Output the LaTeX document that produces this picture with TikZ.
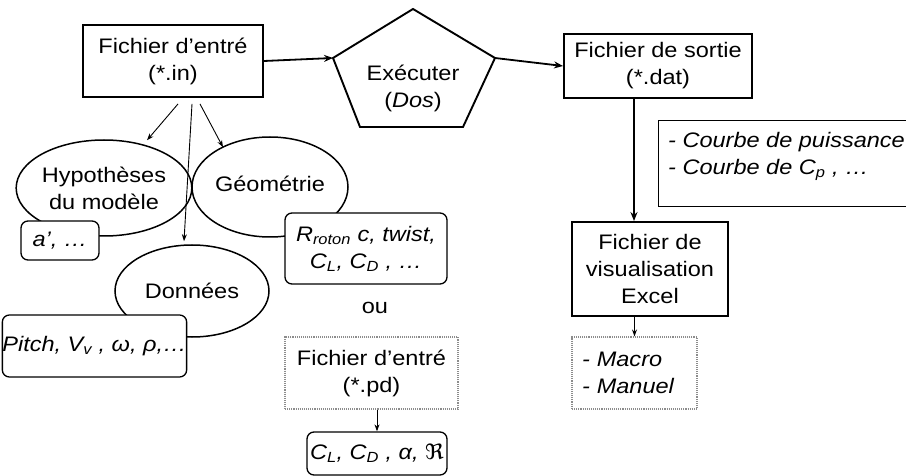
\documentclass[tikz,border=0pt]{standalone}
\usepackage{fontspec}
\setmainfont{Liberation Sans}[FakeStretch=1.12]
\newfontfamily\dejavu{DejaVu Sans}[FakeStretch=1.1]
\usetikzlibrary{arrows.meta,shapes.geometric}
\begin{document}
\begin{tikzpicture}[x=1pt,y=-1pt,
  every node/.style={font=\fontsize{21}{27}\selectfont, align=center, inner sep=0pt},
  mainbox/.style={draw, line width=1.9pt, rectangle},
  ell/.style={draw, ellipse, line width=1.5pt},
  rbox/.style={draw, rectangle, rounded corners=7pt, line width=1.3pt, fill=white},
  graybox/.style={draw=black!45, rectangle, line width=1.1pt, densely dotted, fill=white},
  thickarr/.style={line width=1.8pt, -{Stealth[length=9pt,width=7pt]}},
  thinarr/.style={line width=0.9pt, -{Stealth[length=7pt,width=5pt]}}]
\useasboundingbox (0,0) rectangle (906,476);

% main boxes
\node[mainbox, minimum width=180pt, minimum height=72pt] (fin) at (173,61) {Fichier d'entré\\(*.in)};
\node[mainbox, minimum width=188pt, minimum height=64pt] (sortie) at (658,66) {Fichier de sortie\\(*.dat)};
\node[mainbox, minimum width=156pt, minimum height=94pt] (visu) at (650,269) {Fichier de\\visualisation\\Excel};

% pentagon
\coordinate (pT) at (413,9);
\coordinate (pL) at (333,58);
\coordinate (pR) at (495,58);
\coordinate (pBL) at (360,127);
\coordinate (pBR) at (463,127);
\draw[line width=1.9pt, line join=miter] (pT) -- (pR) -- (pBR) -- (pBL) -- (pL) -- cycle;
\node (exec) at (413,88) {Exécuter\\(\textit{Dos})};

% ellipses
\node[ell, minimum width=168pt, minimum height=96pt] (hyp) at (104,188) {Hypothèses\\du modèle};
\node[ell, minimum width=156pt, minimum height=100pt] (geo) at (270,187) {\raisebox{6pt}{Géométrie}};
\node[ell, minimum width=154pt, minimum height=92pt] (don) at (192,291) {Données};

% rounded boxes
\node[rbox, minimum width=78pt, minimum height=39pt] (abox) at (60,240.5) {\textit{a', \dots}};
\node[rbox, minimum width=162pt, minimum height=71pt] (rbx) at (366,248.5)
  {\textit{R\textsubscript{roton} c, twist,}\\\textit{C\textsubscript{L}, C\textsubscript{D} , \dots}};
\node[rbox, minimum width=163pt, minimum height=62pt] (pbox) at (94.5,346)
  {\textit{Pitch, V\textsubscript{v} , ω, ρ,\dots}};
\node[rbox, minimum width=140pt, minimum height=43pt] (cl) at (377,453.5)
  {\textit{C\textsubscript{L}, C\textsubscript{D} , α, {\dejavu ℜ}}};

\node (ou) at (375,308) {ou};
\node[graybox, minimum width=173pt, minimum height=72pt] (pd) at (371.5,373) {Fichier d'entré\\(*.pd)};

\node[graybox, minimum height=72pt, text width=105pt, inner xsep=10pt, align=left] (macro) at (634.5,373)
  {\textit{- Macro}\\\textit{- Manuel}};

% courbe box
\node[draw, line width=1.4pt, minimum width=262pt, minimum height=86pt, anchor=north west] (cb) at (658,120) {};
\node[anchor=west, align=left] (cbt) at (668,156)
  {\textit{- Courbe de puissance}\\\textit{- Courbe de C\textsubscript{p} , \dots}};

% connectors
\draw[thickarr] (fin.east) -- (pL);
\draw[thickarr] (pR) -- (sortie.west);
\draw[thickarr] ([xshift=-24pt]sortie.south) -- ([xshift=-16pt]visu.north);
\draw[thinarr] (visu.south -| macro.north) -- (macro.north);
\draw[thinarr] (pd.south -| cl.north) -- (cl.north);
\draw[thinarr] ([xshift=5pt,yshift=-6pt]fin.south) -- ([xshift=43pt,yshift=-1pt]hyp.north);
\draw[thinarr] ([xshift=19pt,yshift=-6pt]fin.south) -- ([xshift=-8pt,yshift=3pt]don.north);
\draw[thinarr] ([xshift=27pt,yshift=-6pt]fin.south) -- ([xshift=-47pt,yshift=-11pt]geo.north);
\end{tikzpicture}
\end{document}
